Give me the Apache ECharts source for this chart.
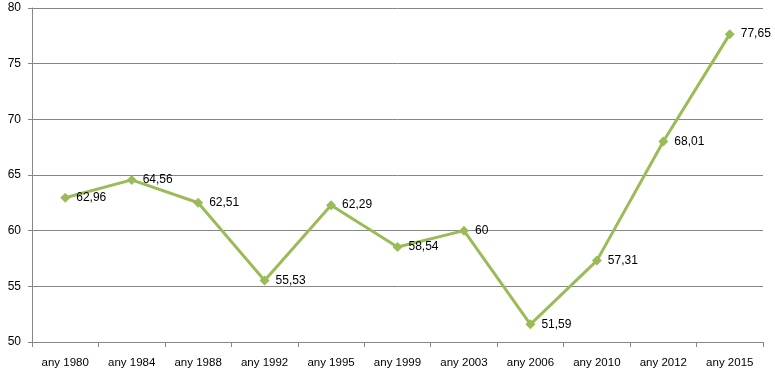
<!DOCTYPE html>
<html><head><meta charset="utf-8">
<script src="https://cdn.jsdelivr.net/npm/echarts@6/dist/echarts.min.js"></script>
<style>html,body{margin:0;padding:0;background:#fff}#c{width:775px;height:381px}</style>
</head><body><div id="c"></div>
<script>
const categories = ['any 1980','any 1984','any 1988','any 1992','any 1995','any 1999','any 2003','any 2006','any 2010','any 2012','any 2015'];
const values = [62.96, 64.56, 62.51, 55.53, 62.29, 58.54, 60, 51.59, 57.31, 68.01, 77.65];
const chart = echarts.init(document.getElementById('c'));
const font = 'Liberation Sans, Arial, sans-serif';
chart.setOption({
  animation: false,
  grid: {left: 32, right: 12, top: 8, bottom: 39},
  xAxis: {
    type: 'category', data: categories, boundaryGap: true,
    axisLine: {lineStyle: {color: '#868686', width: 1}},
    axisTick: {show: true, length: 5, lineStyle: {color: '#868686'}},
    axisLabel: {color: '#000', fontSize: 11.5, fontFamily: font, margin: 15}
  },
  yAxis: {
    type: 'value', min: 50, max: 80, interval: 5,
    axisLine: {show: true, lineStyle: {color: '#868686'}},
    axisTick: {show: true, length: 4, lineStyle: {color: '#868686'}},
    axisLabel: {color: '#000', fontSize: 12, fontFamily: font, margin: 11},
    splitLine: {lineStyle: {color: '#868686', width: 1}}
  },
  series: [{
    type: 'line', data: values,
    symbol: 'diamond', symbolSize: 10,
    lineStyle: {color: '#9BBB59', width: 3},
    itemStyle: {color: '#9BBB59'},
    label: {show: true, position: 'right', distance: 6, color: '#000', fontSize: 12, fontFamily: font,
      formatter: p => String(p.value).replace('.', ',')}
  }]
});
</script></body></html>
